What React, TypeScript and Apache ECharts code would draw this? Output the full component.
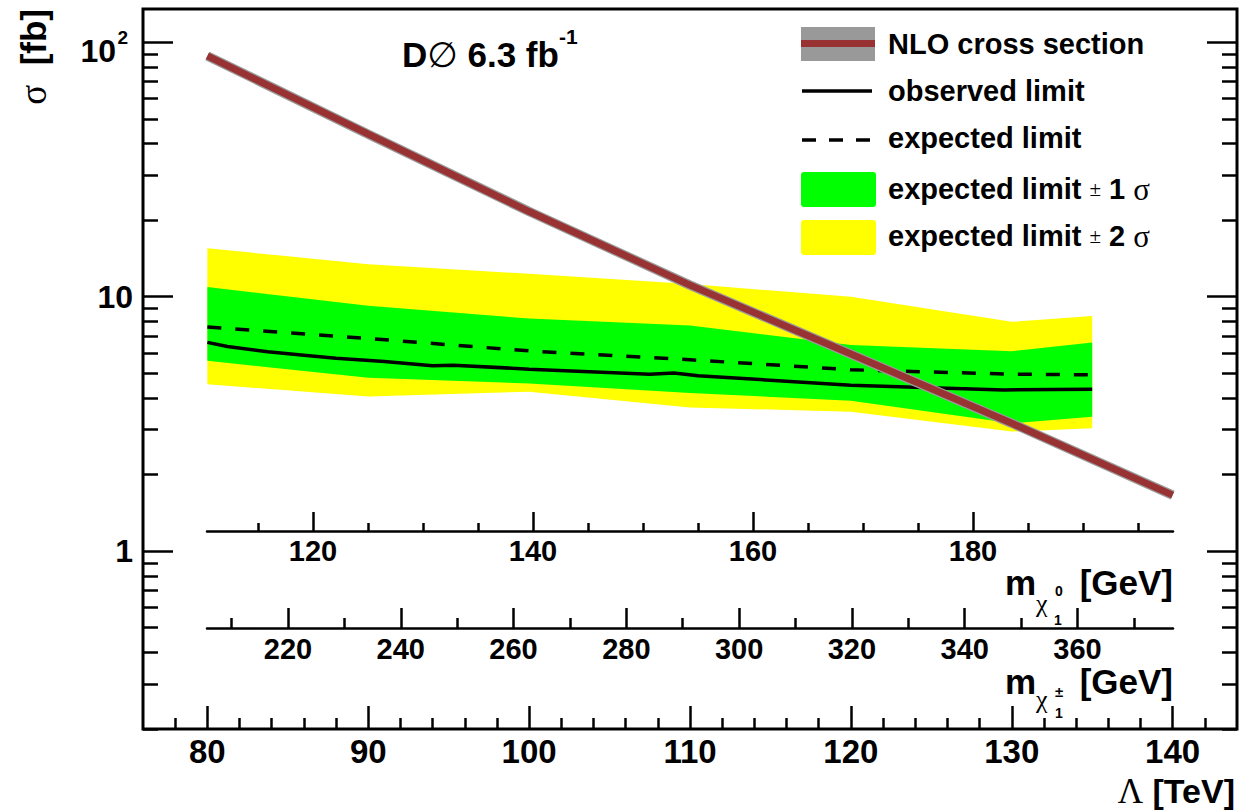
import React, { useEffect, useRef } from 'react';
import * as echarts from 'echarts';

// ---------- data ----------
const lambdaBand = [80, 90, 100, 110, 120, 130, 135];
const plus2 = [15.5, 13.4, 12.3, 11.2, 10.0, 7.96, 8.4];
const plus1 = [10.9, 9.2, 8.2, 7.7, 6.45, 6.1, 6.6];
const minus1 = [5.6, 4.8, 4.56, 4.18, 3.9, 3.18, 3.37];
const minus2 = [4.53, 4.05, 4.23, 3.67, 3.53, 2.95, 3.04];

const expectedLambda = [80, 90, 100, 110, 120, 130, 135];
const expected = [7.6, 6.85, 6.12, 5.65, 5.16, 4.96, 4.93];

const observedLambda = [80, 81.25, 83.75, 86, 88, 91, 94, 95.3, 100, 107.5, 109, 110.5, 120, 129.5, 135];
const observed = [6.61, 6.37, 6.07, 5.89, 5.73, 5.56, 5.35, 5.38, 5.19, 4.96, 5.01, 4.89, 4.49, 4.3, 4.33];

const nloLambda = [80, 90, 100, 110, 120, 130, 140];
const nlo = [88.3, 43.5, 21.6, 11.1, 5.95, 3.18, 1.66];

const lambdaTicks = [80, 90, 100, 110, 120, 130, 140];
const lambdaMinor = [78, 82, 84, 86, 88, 92, 94, 96, 98, 102, 104, 106, 108, 112, 114, 116, 118, 122, 124, 126, 128, 132, 134, 136, 138, 142];
const neutralinoTicks = [120, 140, 160, 180];
const neutralinoMinor = [115, 125, 130, 135, 145, 150, 155, 165, 170, 175, 185, 190, 195];
const charginoTicks = [220, 240, 260, 280, 300, 320, 340, 360];
const charginoMinor = [210, 230, 250, 270, 290, 310, 330, 350, 370];
const sigmaMajor = [1, 10, 100];
const sigmaMinor = [0.2, 0.3, 0.4, 0.5, 0.6, 0.7, 0.8, 0.9, 2, 3, 4, 5, 6, 7, 8, 9, 20, 30, 40, 50, 60, 70, 80, 90];

const Y_MIN = 0.2;
const Y_MAX = 135;

const sans = '"Liberation Sans", Arial, Helvetica, sans-serif';
const serif = '"Liberation Serif", "Times New Roman", serif';

function bandSeries(name: string, upper: number[], lower: number[], color: string) {
  return {
    type: 'custom',
    name,
    xAxisIndex: 0,
    yAxisIndex: 0,
    silent: true,
    data: lambdaBand.map((l, i) => [l, upper[i], lower[i]]),
    encode: { x: 0, y: [1, 2] },
    renderItem: (params: any, api: any) => {
      if (params.dataIndexInside !== 0) return null;
      const pts: number[][] = [];
      for (let i = 0; i < lambdaBand.length; i++) pts.push(api.coord([lambdaBand[i], upper[i]]));
      for (let i = lambdaBand.length - 1; i >= 0; i--) pts.push(api.coord([lambdaBand[i], lower[i]]));
      return { type: 'polygon', shape: { points: pts }, style: { fill: color, stroke: null } };
    },
  };
}

const tickStyle = { color: '#000', width: 2.5 };

function yTickAxis(position: 'left' | 'right', values: number[], len: number, labels: boolean) {
  return {
    gridIndex: 0,
    type: 'value',
    position,
    min: Math.log10(Y_MIN),
    max: Math.log10(Y_MAX),
    axisLine: { show: false, onZero: false },
    splitLine: { show: false },
    axisTick: { show: true, inside: true, length: len, lineStyle: tickStyle, customValues: values.map((v) => Math.log10(v)) },
    axisLabel: labels
      ? {
          show: true,
          customValues: values.map((v) => Math.log10(v)),
          margin: 10,
          color: '#000',
          formatter: (v: number) => (Math.abs(v - 2) < 1e-6 ? '{s|2}\n{b|10}' : Math.abs(v - 1) < 1e-6 ? '{n|10}' : '{n|1}'),
          rich: {
            n: { fontSize: 32, fontWeight: 'bold', fontFamily: sans, color: '#000' },
            b: { fontSize: 32, fontWeight: 'bold', fontFamily: sans, color: '#000', lineHeight: 10, padding: [0, 17, 0, 0] },
            s: { fontSize: 19, fontWeight: 'bold', fontFamily: sans, color: '#000', lineHeight: 18, padding: [0, 5, 0, 0] },
          },
        }
      : { show: false },
  };
}

function xTickAxis(gridIndex: number, min: number, max: number, values: number[], len: number, labelSize: number, showLine: boolean, labelMargin: number) {
  return {
    gridIndex,
    type: 'value',
    position: 'bottom',
    min,
    max,
    axisLine: { show: showLine, onZero: false, lineStyle: { color: '#000', width: 2.5 } },
    splitLine: { show: false },
    axisTick: { show: true, inside: true, length: len, lineStyle: tickStyle, customValues: values },
    axisLabel: labelSize > 0
      ? { show: true, customValues: values, margin: labelMargin, fontSize: labelSize, fontWeight: 'bold', fontFamily: sans, color: '#000' }
      : { show: false },
  };
}

function buildOption() {
  const legendX = 801;
  const textX = 888;
  const axisTitle = { fontSize: 35, fontWeight: 'bold', fontFamily: sans, fill: '#000' };
  return {
    animation: false,
    backgroundColor: '#ffffff',
    tooltip: { show: false },
    grid: [
      { left: 143, right: 4, top: 9, bottom: 82, show: true, borderColor: '#000', borderWidth: 3, backgroundColor: 'transparent' },
      { left: 207, right: 68, bottom: 280, height: 10, show: false },
      { left: 207, right: 68, bottom: 183, height: 10, show: false },
    ],
    xAxis: [
      xTickAxis(0, 76, 144, lambdaTicks, 23, 33, false, 6),
      xTickAxis(0, 76, 144, lambdaMinor, 11, 0, false, 0),
      xTickAxis(1, 110.36, 198.18, neutralinoTicks, 19, 29, true, 5),
      xTickAxis(1, 110.36, 198.18, neutralinoMinor, 8, 0, false, 0),
      xTickAxis(2, 205.64, 376.94, charginoTicks, 20, 29, true, 6),
      xTickAxis(2, 205.64, 376.94, charginoMinor, 10, 0, false, 0),
    ],
    yAxis: [
      { gridIndex: 0, type: 'log', min: Y_MIN, max: Y_MAX, show: false, axisLine: { onZero: false }, splitLine: { show: false } },
      yTickAxis('left', sigmaMajor, 30, true),
      yTickAxis('left', sigmaMinor, 15, false),
      yTickAxis('right', sigmaMajor, 30, false),
      yTickAxis('right', sigmaMinor, 15, false),
      { gridIndex: 1, type: 'value', show: false, splitLine: { show: false } },
      { gridIndex: 2, type: 'value', show: false, splitLine: { show: false } },
    ],
    series: [
      bandSeries('expected limit ± 2 σ', plus2, minus2, '#ffff00'),
      bandSeries('expected limit ± 1 σ', plus1, minus1, '#00ff00'),
      {
        type: 'line', name: 'expected limit', xAxisIndex: 0, yAxisIndex: 0, silent: true, symbol: 'none',
        data: expectedLambda.map((l, i) => [l, expected[i]]),
        lineStyle: { color: '#000', width: 3.5, type: [14, 14] },
      },
      {
        type: 'line', name: 'observed limit', xAxisIndex: 0, yAxisIndex: 0, silent: true, symbol: 'none',
        data: observedLambda.map((l, i) => [l, observed[i]]),
        lineStyle: { color: '#000', width: 3.5 },
      },
      {
        type: 'line', name: 'NLO band', xAxisIndex: 0, yAxisIndex: 0, silent: true, symbol: 'none',
        data: nloLambda.map((l, i) => [l, nlo[i]]),
        lineStyle: { color: '#9a9a9a', width: 9.5 },
      },
      {
        type: 'line', name: 'NLO cross section', xAxisIndex: 0, yAxisIndex: 0, silent: true, symbol: 'none',
        data: nloLambda.map((l, i) => [l, nlo[i]]),
        lineStyle: { color: '#993333', width: 7 },
      },
    ],
    graphic: [
      // title
      {
        type: 'text', x: 402, y: 49,
        style: {
          text: '{b|D}{o|∅}{b| 6.3 fb}{sup|-1}', verticalAlign: 'middle', align: 'left', fill: '#000',
          rich: {
            b: { fontSize: 35, fontWeight: 'bold', fontFamily: sans, lineHeight: 46, verticalAlign: 'bottom', fill: '#000' },
            o: { fontSize: 35, fontWeight: 'normal', fontFamily: '"DejaVu Sans", sans-serif', lineHeight: 46, verticalAlign: 'bottom', fill: '#000' },
            sup: { fontSize: 21, fontWeight: 'bold', fontFamily: sans, lineHeight: 21, verticalAlign: 'top', fill: '#000' },
          },
        },
      },
      // legend
      { type: 'rect', shape: { x: legendX, y: 27, width: 74, height: 34 }, style: { fill: '#999999' } },
      { type: 'rect', shape: { x: legendX, y: 40, width: 74, height: 7 }, style: { fill: '#993333' } },
      { type: 'line', shape: { x1: 802, y1: 91, x2: 872, y2: 91 }, style: { stroke: '#000', lineWidth: 3.5 } },
      { type: 'line', shape: { x1: 802, y1: 140, x2: 872, y2: 140 }, style: { stroke: '#000', lineWidth: 3.5, lineDash: [14, 13] } },
      { type: 'rect', shape: { x: legendX, y: 172, width: 75, height: 35, r: 3 }, style: { fill: '#00ff00' } },
      { type: 'rect', shape: { x: legendX, y: 220, width: 75, height: 35, r: 3 }, style: { fill: '#ffff00' } },
      { type: 'text', x: textX, y: 44, style: { text: 'NLO cross section', fill: '#000', fontSize: 29, fontWeight: 'bold', fontFamily: sans, verticalAlign: 'middle' } },
      { type: 'text', x: textX, y: 91, style: { text: 'observed limit', fill: '#000', fontSize: 29, fontWeight: 'bold', fontFamily: sans, verticalAlign: 'middle' } },
      { type: 'text', x: textX, y: 138, style: { text: 'expected limit', fill: '#000', fontSize: 29, fontWeight: 'bold', fontFamily: sans, verticalAlign: 'middle' } },
      ...[
        { y: 189, n: '1' },
        { y: 236, n: '2' },
      ].map((e) => ({
        type: 'text', x: textX, y: e.y,
        style: {
          text: `{t|expected limit }{pm|±}{t| ${e.n} }{sg|σ}`, verticalAlign: 'middle', fill: '#000',
          rich: {
            t: { fontSize: 29, fontWeight: 'bold', fontFamily: sans, fill: '#000' },
            pm: { fontSize: 21, fontWeight: 'normal', fontFamily: serif, fill: '#000' },
            sg: { fontSize: 31, fontWeight: 'normal', fontFamily: serif, fill: '#000' },
          },
        },
      })),
      // y axis title
      {
        type: 'text', x: 33, y: 9, rotation: Math.PI / 2,
        style: {
          text: '{s|σ}{b|  [fb]}', align: 'right', verticalAlign: 'middle', fill: '#000',
          rich: {
            s: { fontSize: 37, fontFamily: serif, fontWeight: 'normal', fill: '#000' },
            b: { fontSize: 35, fontFamily: sans, fontWeight: 'bold', fill: '#000' },
          },
        },
      },
      // x axis title
      {
        type: 'text', x: 1235, y: 791,
        style: {
          text: '{s|Λ}{b| [TeV]}', align: 'right', verticalAlign: 'middle', fill: '#000',
          rich: {
            s: { fontSize: 35, fontFamily: serif, fontWeight: 'normal', fill: '#000' },
            b: { fontSize: 34, fontFamily: sans, fontWeight: 'bold', fill: '#000' },
          },
        },
      },
      // neutralino axis title
      { type: 'text', x: 1173, y: 582, style: { text: '[GeV]', align: 'right', verticalAlign: 'middle', ...axisTitle } },
      { type: 'text', x: 1036, y: 582, style: { text: 'm', align: 'right', verticalAlign: 'middle', ...axisTitle } },
      { type: 'text', x: 1036, y: 603, style: { text: 'χ', align: 'left', verticalAlign: 'middle', fill: '#000', fontSize: 26, fontFamily: serif } },
      { type: 'text', x: 1055, y: 591, style: { text: '0', align: 'left', verticalAlign: 'middle', fill: '#000', fontSize: 14, fontWeight: 'bold', fontFamily: sans } },
      { type: 'text', x: 1054, y: 620, style: { text: '1', align: 'left', verticalAlign: 'middle', fill: '#000', fontSize: 14, fontWeight: 'bold', fontFamily: sans } },
      // chargino axis title
      { type: 'text', x: 1173, y: 681, style: { text: '[GeV]', align: 'right', verticalAlign: 'middle', ...axisTitle } },
      { type: 'text', x: 1036, y: 681, style: { text: 'm', align: 'right', verticalAlign: 'middle', ...axisTitle } },
      { type: 'text', x: 1036, y: 699, style: { text: 'χ', align: 'left', verticalAlign: 'middle', fill: '#000', fontSize: 26, fontFamily: serif } },
      { type: 'text', x: 1055, y: 691, style: { text: '±', align: 'left', verticalAlign: 'middle', fill: '#000', fontSize: 15, fontWeight: 'bold', fontFamily: sans } },
      { type: 'text', x: 1055, y: 713, style: { text: '1', align: 'left', verticalAlign: 'middle', fill: '#000', fontSize: 14, fontWeight: 'bold', fontFamily: sans } },
    ],
  };
}

export default function App() {
  const ref = useRef<HTMLDivElement | null>(null);
  useEffect(() => {
    document.body.style.margin = '0';
    document.body.style.padding = '0';
    if (!ref.current) return;
    const chart = echarts.init(ref.current, undefined, { renderer: 'svg' });
    chart.setOption(buildOption() as any);
    return () => {
      chart.dispose();
    };
  }, []);
  return (
    <div style={{ width: 1241, height: 811, overflow: 'hidden', background: '#fff' }}>
      <div ref={ref} style={{ width: 1241, height: 811 }} />
    </div>
  );
}
